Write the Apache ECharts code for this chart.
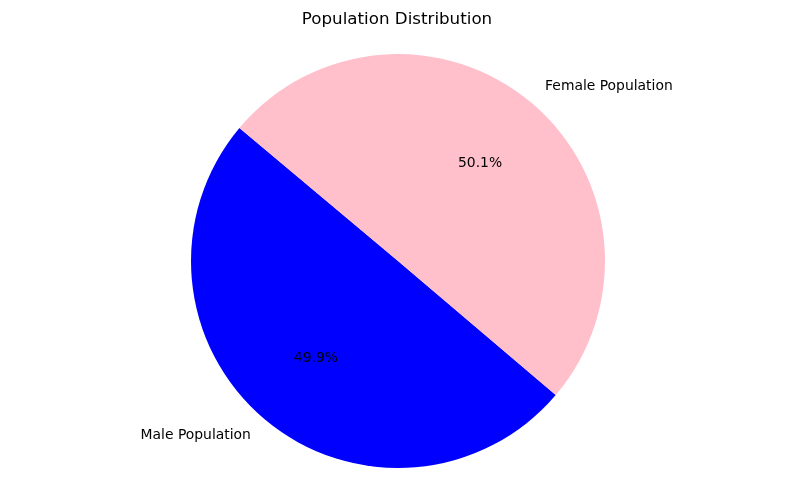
<!DOCTYPE html>
<head>
    <title>Population Distribution</title>
    <script src="https://cdn.jsdelivr.net/npm/echarts@6/dist/echarts.min.js"></script>
    <style>
        html, body { margin: 0; padding: 0; background: #fff; }
        #main { width: 794px; height: 504px; }
    </style>
</head>
<body>
    <div id="main"></div>
    <script>
        var labels = ['Male Population', 'Female Population'];
        var shares = [49.9, 50.1];
        var colors = ['#0000ff', '#ffc0cb'];

        var R = 207;
        var font = 'DejaVu Sans';

        var chart = echarts.init(document.getElementById('main'));

        var pieData = labels.map(function (name, i) {
            return { name: name, value: shares[i], itemStyle: { color: colors[i] } };
        });

        var option = {
            backgroundColor: '#fff',
            animation: false,
            title: {
                text: 'Population Distribution',
                left: 'center',
                top: -2,
                textStyle: { fontFamily: font, fontSize: 16.7, fontWeight: 'normal', color: '#000' }
            },
            series: [
                {
                    // wedges + name labels at 1.1 r
                    type: 'pie',
                    center: [398, 261],
                    radius: [0, R],
                    startAngle: 140,
                    clockwise: false,
                    avoidLabelOverlap: false,
                    emphasis: { disabled: true },
                    itemStyle: { borderWidth: 0 },
                    label: {
                        show: true,
                        position: 'outside',
                        alignTo: 'none',
                        distanceToLabelLine: 0,
                        formatter: '{b}',
                        fontFamily: font,
                        fontSize: 13.9,
                        color: '#000'
                    },
                    labelLine: { show: false, length: Math.round(R * 0.1), length2: 0 },
                    data: pieData
                },
                {
                    // invisible pie just to place the percent labels at 0.6 r
                    type: 'pie',
                    center: [398, 261],
                    radius: [0, R * 1.2],
                    startAngle: 140,
                    clockwise: false,
                    silent: true,
                    z: 5,
                    avoidLabelOverlap: false,
                    emphasis: { disabled: true },
                    itemStyle: { color: 'rgba(0,0,0,0)', borderWidth: 0 },
                    label: {
                        show: true,
                        position: 'inside',
                        formatter: function (p) { return p.percent.toFixed(1) + '%'; },
                        fontFamily: font,
                        fontSize: 13.9,
                        color: '#000'
                    },
                    labelLine: { show: false },
                    data: labels.map(function (name, i) { return { name: name, value: shares[i] }; })
                }
            ]
        };

        chart.setOption(option);
    </script>
</body>
